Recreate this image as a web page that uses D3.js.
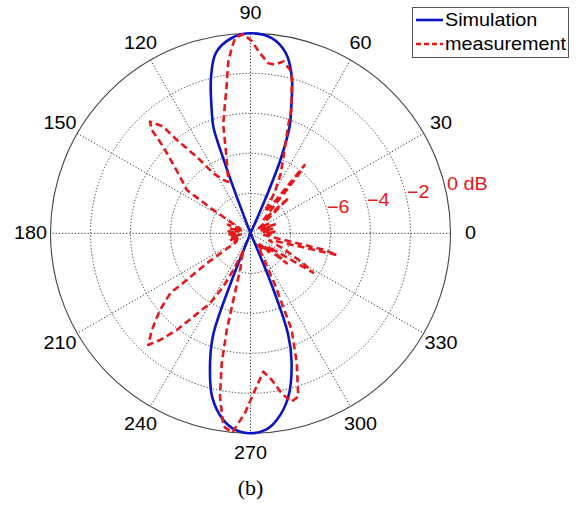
<!DOCTYPE html>
<html>
<head>
<meta charset="utf-8">
<script src="https://cdn.jsdelivr.net/npm/d3@7"></script>
<style>
  html, body { margin: 0; padding: 0; background: #fff; }
  svg { display: block; }
</style>
</head>
<body>
<svg id="chart" width="584" height="507"></svg>
<script>
// Simulated pattern (degrees, dB); -10 dB sits at the centre of the plot
const simAngles = [64, 66.8, 67.9, 70, 71.6, 75.1, 79, 83.8, 90, 95.5, 100.9, 104.3, 107.6, 109.3, 110, 110.6, 112,
                   246, 248.4, 249.8, 252.7, 256.8, 261.7, 265.5, 270, 274.5, 278, 283, 287.6, 290.4, 292.3, 294];
const simDb = [-10, -7.75, -5.95, -4.25, -3.6, -1.95, -0.8, -0.18, 0, -0.19, -0.82, -2.0, -3.6, -4.4, -6.0, -7.8, -10,
               -10, -7.2, -4.6, -3.2, -1.6, -0.57, -0.15, 0, -0.15, -0.57, -1.6, -3.2, -4.6, -7.2, -10];

// Measured pattern (degrees, dB)
const measAngles = [0, 4, 8, 12, 16, 20, 24, 28, 32, 36, 38.7, 42.8, 45.5, 48.5, 50.6, 51.6, 53, 56, 59.5, 63, 66.4,
                    70.8, 71.6, 75.1, 76.4, 79.2, 81.7, 84, 87, 89.6, 92, 94.5, 95.8, 97.4, 99.1, 102.1, 104.1, 107.6,
                    113.3, 117, 121.8, 125.1, 128.3, 129.3, 132, 133.7, 135.2, 141.2, 145.8, 147.9, 151, 155, 159, 163,
                    167, 171, 175, 179, 183, 187, 191, 195, 199, 203, 207, 211, 214.4, 216.2, 216.7, 220.3, 224.4, 227.5,
                    229.7, 232.7, 235.6, 239.9, 243, 244.9, 248, 251, 254, 255, 256.2, 257.5, 259.4, 262, 264.8, 268.2,
                    271.6, 275.3, 278.2, 281, 283.7, 286.3, 289.6, 293.1, 295.4, 298, 302, 306, 310, 314, 317, 320.3,
                    323, 327.9, 330.5, 335, 339, 343, 345.9, 347.4, 350, 354, 357];
const measDb = [-9.1, -8.8, -9.4, -8.9, -9.5, -8.7, -9.4, -9.0, -9.5, -9.2, -9.05, -7.4, -9.1, -8.6, -6.25, -5.65, -8.3, -8.7, -7.6, -6.7, -5.9,
                -4.25, -3.55, -1.95, -1.6, -1.25, -1.48, -1.45, -0.98, -0.4, -0.03, -0.2, -0.7, -1.35, -2.48, -3.75, -4.4, -6.05,
                -7.2, -7.0, -6.47, -5.32, -4.05, -3.1, -2.49, -2.85, -3.85, -5.48, -6.15, -7.8, -9.0, -9.4, -8.8, -9.5,
                -9.0, -9.4, -8.9, -9.3, -8.8, -9.5, -9.0, -9.4, -8.9, -9.3, -9.0, -9.2, -7.35, -6.05, -5.0, -4.07, -3.1, -2.43,
                -3.0, -3.92, -4.95, -5.95, -7.0, -7.98, -9.1, -8.6, -8.2, -7.33, -5.02, -3.35, -1.7, -0.25, 0, -1.0,
                -2.15, -3.05, -2.6, -1.85, -1.33, -1.5, -3.1, -4.75, -7.15, -8.8, -9.3, -8.9, -9.4, -8.7, -9.1, -7.65,
                -8.9, -6.3, -7.0, -8.2, -9.0, -8.6, -5.55, -6.2, -8.9, -9.4, -9.0];

const angleTicks = [0, 30, 60, 90, 120, 150, 180, 210, 240, 270, 300, 330];
const ringDb = [-8, -6, -4, -2];
const ringLabelDb = [-6, -4, -2, 0];
const ringLabels = ["\u22126", "\u22124", "\u22122", "0 dB"];
const seriesNames = ["Simulation", "measurement"];
const panelLabel = "(b)";

const cx = 250.5, cy = 233.3, R = 200;
const BLUE = "#0b14c4", RED = "#e5191c";
const stretch = 1.1;

const svg = d3.select("#chart");
const g = svg.append("g").attr("transform", `translate(${cx},${cy})`);

const r = d3.scaleLinear().domain([-10, 0]).range([0, R]).clamp(true);
// polar angle (deg, counter-clockwise from east) -> d3 radial angle (clockwise from north)
const toRad = deg => (90 - deg) * Math.PI / 180;
const px = (deg, rad) => rad * Math.cos(deg * Math.PI / 180);
const py = (deg, rad) => -rad * Math.sin(deg * Math.PI / 180);

// dotted rings
g.selectAll("circle.ring").data(ringDb).join("circle")
  .attr("class", "ring")
  .attr("r", d => r(d))
  .attr("fill", "none")
  .attr("stroke", "#333")
  .attr("stroke-width", 1)
  .attr("stroke-dasharray", "1.2,2");

// dotted spokes through the centre
g.selectAll("line.spoke").data(angleTicks.filter(a => a < 180)).join("line")
  .attr("class", "spoke")
  .attr("x1", d => px(d, R)).attr("y1", d => py(d, R))
  .attr("x2", d => px(d + 180, R)).attr("y2", d => py(d + 180, R))
  .attr("stroke", "#333")
  .attr("stroke-width", 1)
  .attr("stroke-dasharray", "1.2,2");

// outer boundary
g.append("circle").attr("r", r(0)).attr("fill", "none")
  .attr("stroke", "#444").attr("stroke-width", 1.1);

// angle labels
g.selectAll("text.ang").data(angleTicks).join("text")
  .attr("class", "ang")
  .attr("transform", d => `translate(${px(d, R * 1.1)},${py(d, R * 1.1)}) scale(${stretch},1)`)
  .attr("text-anchor", "middle")
  .attr("dominant-baseline", "central")
  .attr("font-family", "'Liberation Sans', Arial, sans-serif")
  .attr("font-size", 18)
  .attr("fill", "#000")
  .text(d => d);

// dB ring labels
g.selectAll("text.rlab").data(ringLabelDb).join("text")
  .attr("class", "rlab")
  .attr("transform", d => `translate(${r(d) - 3.5},${-(11 + 0.19 * r(d))}) scale(${stretch},1)`)
  .attr("dominant-baseline", "central")
  .attr("font-family", "'Liberation Sans', Arial, sans-serif")
  .attr("font-size", 18)
  .attr("fill", RED)
  .text((d, i) => ringLabels[i]);

// smooth lobes; repeated centre points keep a sharp crossing at the origin
const simLine = d3.lineRadial()
  .angle(d => toRad(d.a))
  .radius(d => r(d.db))
  .curve(d3.curveCatmullRomClosed.alpha(0.5));

const measLine = d3.lineRadial()
  .angle(d => toRad(d.a))
  .radius(d => r(d.db))
  .curve(d3.curveLinearClosed);

const simData = simAngles.map((a, i) => ({ a, db: simDb[i] }));
const measData = measAngles.map((a, i) => ({ a, db: measDb[i] }));

g.append("path").datum(simData)
  .attr("d", simLine)
  .attr("fill", "none")
  .attr("stroke", BLUE)
  .attr("stroke-width", 2.6)
  .attr("stroke-linejoin", "round");

g.append("path").datum(measData)
  .attr("d", measLine)
  .attr("fill", "none")
  .attr("stroke", RED)
  .attr("stroke-width", 2.6)
  .attr("stroke-dasharray", "7,4")
  .attr("stroke-linejoin", "round");

// legend
const lg = svg.append("g");
lg.append("rect").attr("x", 412.5).attr("y", 7.5).attr("width", 156).attr("height", 50)
  .attr("fill", "#fff").attr("stroke", "#555").attr("stroke-width", 1);
const legendStyles = [{ c: BLUE, dash: null }, { c: RED, dash: "5,3" }];
seriesNames.forEach((name, i) => {
  const y = 20 + i * 24;
  lg.append("line").attr("x1", 416).attr("x2", 443).attr("y1", y).attr("y2", y)
    .attr("stroke", legendStyles[i].c).attr("stroke-width", 2.6)
    .attr("stroke-dasharray", legendStyles[i].dash);
  lg.append("text")
    .attr("transform", `translate(445,${y}) scale(${stretch},1)`)
    .attr("dominant-baseline", "central")
    .attr("font-family", "'Liberation Sans', Arial, sans-serif")
    .attr("font-size", 18)
    .attr("fill", "#000")
    .text(name);
});

// panel caption
svg.append("text")
  .attr("transform", `translate(250.5,488.3) scale(${stretch},1)`)
  .attr("text-anchor", "middle")
  .attr("dominant-baseline", "central")
  .attr("font-family", "'Liberation Serif', 'Times New Roman', serif")
  .attr("font-size", 20)
  .attr("fill", "#000")
  .text(panelLabel);
</script>
</body>
</html>
